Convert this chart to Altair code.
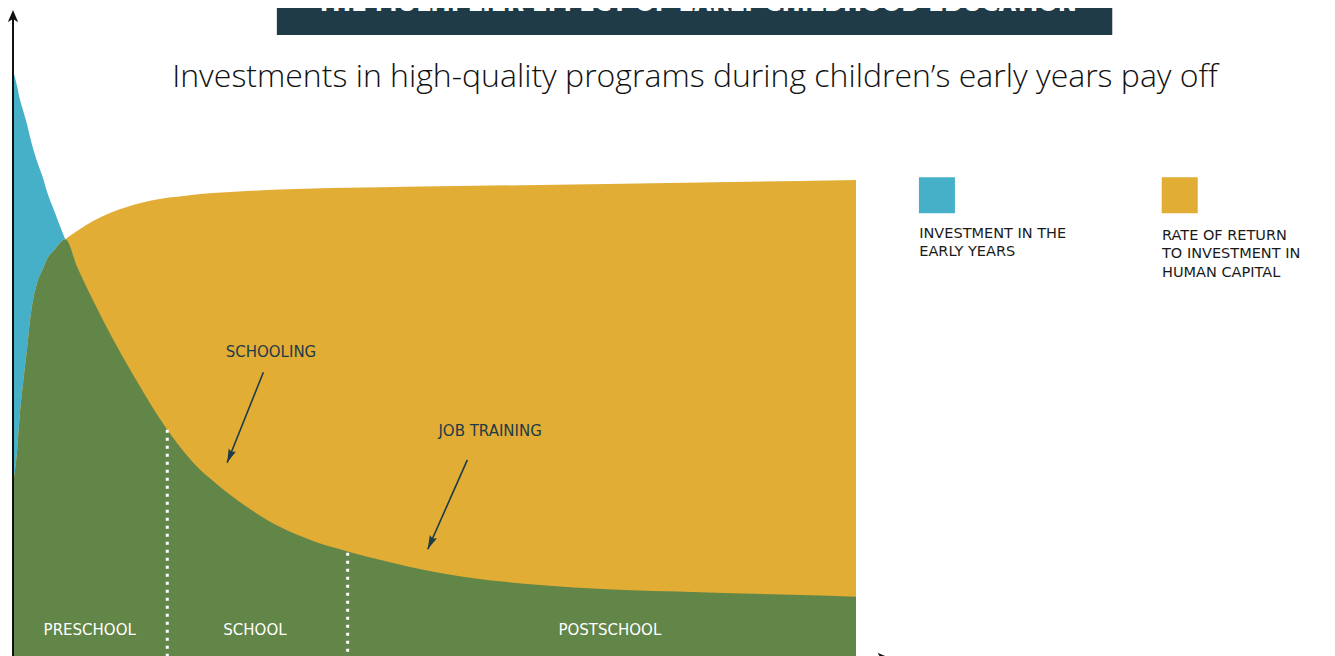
import altair as alt
import pandas as pd

# ---------------- data ----------------
# life-stage axis (0 = birth ... 100 = end of drawn range), relative magnitude 0..100
AGE = [0, 0.5, 0.8, 1.2, 1.7, 2.0, 2.8, 3.6, 4.0, 5.0, 6.2, 7.6, 9.5, 11.5, 13.5, 15.4,
       17.4, 20.2, 22.2, 23.7, 27.8, 31.7, 35.6, 39.6, 43.5, 46.7, 54.6, 62.5, 70.5,
       81.5, 93.4, 100]
INVESTMENT = [100.0, 97.14, 95.10, 93.11, 90.56, 88.72, 84.68, 81.46, 79.46, 75.65, 71.2,
              66.53, 60.82, 55.19, 49.98, 45.36, 40.73, 35.20, 32.01, 30.14, 25.63, 22.26,
              19.90, 18.16, 16.70, 15.60, 13.57, 12.43, 11.68, 11.17, 10.70, 10.41]
RETURN = [29.42, 35.37, 41.16, 46.77, 52.89, 57.14, 63.44, 66.33, 67.69, 69.56, 71.2,
          72.62, 74.32, 75.68, 76.70, 77.47, 78.06, 78.57, 78.91, 79.08, 79.42, 79.68,
          79.85, 79.97, 80.07, 80.14, 80.31, 80.44, 80.61, 80.87, 81.12, 81.29]

STAGES = ["PRESCHOOL", "SCHOOL", "POSTSCHOOL"]
STAGE_X = [9.1, 28.7, 70.8]
STAGE_Y = [4.8, 4.8, 4.8]

BOUNDARY_X = [18.3, 39.7]
BOUNDARY_TOP = [38.8, 17.9]

NOTES = ["SCHOOLING", "JOB TRAINING"]
NOTE_X = [30.6, 56.6]
NOTE_Y = [52.0, 38.6]
ARROW_X0 = [29.7, 53.9]
ARROW_Y0 = [48.6, 33.7]
ARROW_X1 = [25.4, 49.2]
ARROW_Y1 = [33.2, 18.5]
ARROW_ANGLE = [202, 204]

LEGEND_LABELS = ["INVESTMENT IN THE\nEARLY YEARS",
                 "RATE OF RETURN\nTO INVESTMENT IN\nHUMAN CAPITAL"]
LEGEND_X = [109.6, 138.4]
LEGEND_Y = [78.7, 78.7]
LEGEND_TX = [107.5, 136.3]
LEGEND_TY = [73.3, 73.0]

TITLE = "THE MULTIPLIER EFFECT OF EARLY CHILDHOOD EDUCATION"
SUBTITLE = "Investments in high-quality programs during children\u2019s early years pay off"

# ---------------- styles ----------------
BLUE = "#46B0C8"
GOLD = "#E1AD35"
GREEN = "#628548"
DARK = "#1F3B48"
LABEL_FONT = "DejaVu Sans"

xs = alt.Scale(domain=[0, 100], range=[5, 848], nice=False, zero=False)
ys = alt.Scale(domain=[0, 100], range=[650, 62], nice=False, zero=False)


def X(f):
    return alt.X(f, type="quantitative", scale=xs, axis=None)


def Y(f):
    return alt.Y(f, type="quantitative", scale=ys, axis=None)


curves = pd.DataFrame({"x": AGE, "inv": INVESTMENT, "ret": RETURN})
curves["low"] = curves[["inv", "ret"]].min(axis=1)

gold = alt.Chart(curves).mark_area(color=GOLD, interpolate="monotone").encode(
    x=X("x"), y=Y("ret"))
blue = alt.Chart(curves).mark_area(color=BLUE, interpolate="monotone").encode(
    x=X("x"), y=Y("inv"), y2="low")
green = alt.Chart(curves).mark_area(color=GREEN, interpolate="monotone").encode(
    x=X("x"), y=Y("low"))

bounds = pd.DataFrame({"x": BOUNDARY_X, "top": BOUNDARY_TOP, "base": [0] * len(BOUNDARY_X)})
dotted = alt.Chart(bounds).mark_rule(color="white", strokeWidth=3, strokeDash=[3, 5]).encode(
    x=X("x"), y=Y("top"), y2="base")

stages = pd.DataFrame({"x": STAGE_X, "y": STAGE_Y, "t": STAGES})
stage_txt = alt.Chart(stages).mark_text(
    color="white", font=LABEL_FONT, fontSize=15, align="center", baseline="middle"
).encode(x=X("x"), y=Y("y"), text="t:N")

notes = pd.DataFrame({"x": NOTE_X, "y": NOTE_Y, "t": NOTES})
note_txt = alt.Chart(notes).mark_text(
    color=DARK, font=LABEL_FONT, fontSize=15, align="center", baseline="middle"
).encode(x=X("x"), y=Y("y"), text="t:N")

arrows = pd.DataFrame({"x0": ARROW_X0, "y0": ARROW_Y0, "x1": ARROW_X1, "y1": ARROW_Y1,
                       "a": ARROW_ANGLE})
arrow_lines = alt.Chart(arrows).mark_rule(color=DARK, strokeWidth=1.6).encode(
    x=X("x0"), y=Y("y0"), x2="x1", y2="y1")
HEAD = "M0,0L0.45,1.6L0,1.35L-0.45,1.6Z"
arrow_heads = alt.Chart(arrows).mark_point(
    shape=HEAD, filled=True, color=DARK, opacity=1, size=300, strokeWidth=0
).encode(x=X("x1"), y=Y("y1"), angle=alt.Angle("a:Q", scale=None))

# axes (arrowed lines)
axis_line = pd.DataFrame({"x": [0], "y0": [0], "y1": [109.6]})
y_axis = alt.Chart(axis_line).mark_rule(color="#111111", strokeWidth=2).encode(
    x=X("x"), y=Y("y0"), y2="y1")
axis_heads = pd.DataFrame({"x": [0, 104], "y": [110.2, 0], "a": [0, 90]})
AXHEAD = "M0,0L0.6,1.4L0,1.05L-0.6,1.4Z"
axis_arrows = alt.Chart(axis_heads).mark_point(
    shape=AXHEAD, filled=True, color="#111111", opacity=1, size=300, strokeWidth=0
).encode(x=X("x"), y=Y("y"), angle=alt.Angle("a:Q", scale=None))

# legend
leg = pd.DataFrame({"x": LEGEND_X, "y": LEGEND_Y, "c": [BLUE, GOLD],
                    "tx": LEGEND_TX, "ty": LEGEND_TY, "t": LEGEND_LABELS})
leg_sq = alt.Chart(leg).mark_square(size=1296, opacity=1, filled=True, strokeWidth=0).encode(
    x=X("x"), y=Y("y"), color=alt.Color("c:N", scale=None))
leg_txt = alt.Chart(leg).mark_text(
    align="left", baseline="top", lineBreak="\n", lineHeight=18.5,
    font=LABEL_FONT, fontSize=14.5, color="#1a1a1a"
).encode(x=X("tx"), y=Y("ty"), text="t:N")

# banner + subtitle
banner = pd.DataFrame({"x0": [31.3], "x1": [130.4], "y0": [105.95], "y1": [112.5],
                       "tx": [81.1], "ty": [110.0], "t": [TITLE]})
banner_rect = alt.Chart(banner).mark_rect(color=DARK).encode(
    x=X("x0"), x2="x1", y=Y("y0"), y2="y1")
banner_txt = alt.Chart(banner).mark_text(
    font="Liberation Sans Narrow, DejaVu Sans Condensed, sans-serif", fontWeight="bold",
    fontSize=25.5, color="white", align="center", baseline="alphabetic"
).encode(x=X("tx"), y=Y("ty"), text="t:N")

sub = pd.DataFrame({"x": [80.9], "y": [97.1], "t": [SUBTITLE]})
sub_txt = alt.Chart(sub).mark_text(
    font="Open Sans", fontWeight=300, fontSize=32, color="#111111", align="center",
    baseline="alphabetic"
).encode(x=X("x"), y=Y("y"), text="t:N")

chart = alt.layer(
    gold, blue, green, dotted, stage_txt, note_txt, arrow_lines, arrow_heads,
    y_axis, axis_arrows, leg_sq, leg_txt, banner_rect, banner_txt, sub_txt
).properties(
    width=1319, height=648, padding=0, autosize=alt.AutoSizeParams(type="none"),
    background="white"
).configure_view(stroke=None)

chart.save("out.html", embed_options={"renderer": "svg", "actions": False})
